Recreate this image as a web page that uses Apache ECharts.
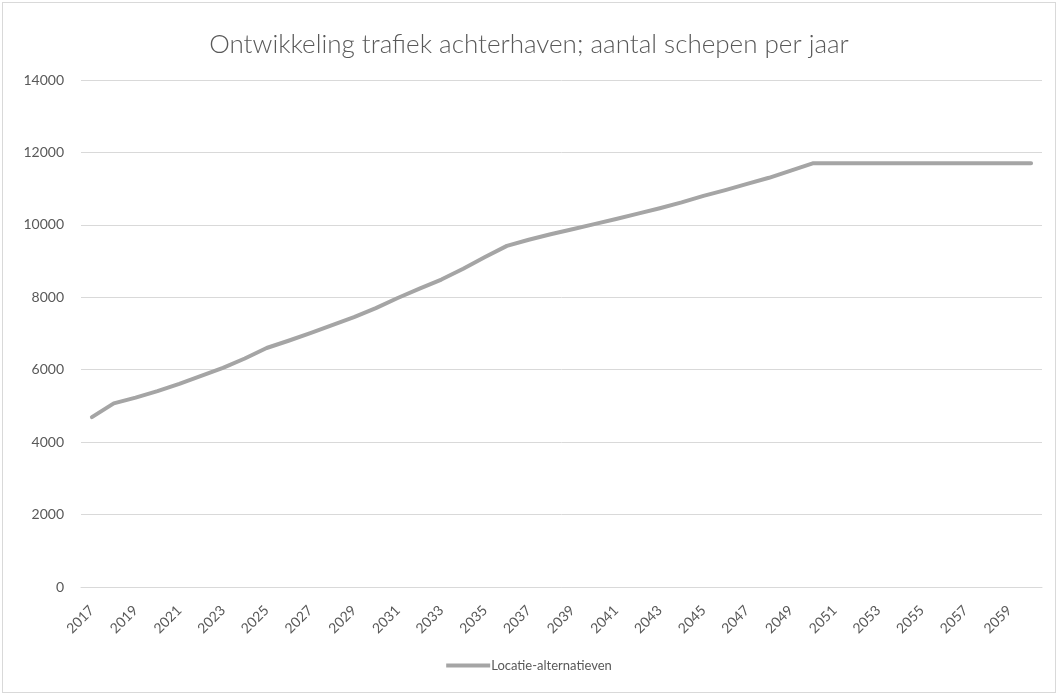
<!DOCTYPE html>
<html>
<head>
<meta charset="utf-8">
<script src="https://cdn.jsdelivr.net/npm/echarts@6/dist/echarts.min.js"></script>
<style>
  html, body { margin: 0; padding: 0; background: #fff; }
  #wrap { position: absolute; left: 2px; top: 2px; width: 1052px; height: 689px; border: 1px solid #d9d9d9; }
  #chart { position: absolute; left: -3px; top: -3px; width: 1058px; height: 695px; }
</style>
</head>
<body>
<div id="wrap"><div id="chart"></div></div>
<script>
const years = [];
for (let y = 2017; y <= 2060; y++) years.push(String(y));

const seriesName = "Locatie-alternatieven";
const values = [
  4690, 5070, 5230, 5410, 5610, 5830, 6050, 6310, 6600, 6800,
  7010, 7230, 7450, 7700, 7980, 8240, 8490, 8790, 9110, 9420,
  9590, 9740, 9880, 10020, 10160, 10310, 10460, 10620, 10800, 10960,
  11130, 11300, 11500, 11700, 11700, 11700, 11700, 11700, 11700, 11700,
  11700, 11700, 11700, 11700
];

const yTicks = { min: 0, max: 14000, interval: 2000 };
const titleText = "Ontwikkeling trafiek achterhaven; aantal schepen per jaar";

const chart = echarts.init(document.getElementById('chart'));
const font = "Lato, 'Open Sans', sans-serif";
chart.setOption({
  animation: false,
  backgroundColor: 'transparent',
  title: {
    text: titleText,
    left: 'center',
    top: 27,
    textStyle: { fontFamily: font, fontWeight: 300, fontSize: 26, color: '#595959' }
  },
  grid: { left: 81, right: 16, top: 80, bottom: 108, containLabel: false },
  legend: {
    bottom: 18,
    left: 'center',
    icon: 'rect',
    itemWidth: 44,
    itemHeight: 4,
    itemGap: 10,
    textStyle: { fontFamily: font, fontSize: 13, color: '#595959', padding: [0, 0, 0, -4] },
    data: [seriesName]
  },
  xAxis: {
    type: 'category',
    data: years,
    boundaryGap: true,
    axisLine: { show: true, lineStyle: { color: '#d9d9d9', width: 1 } },
    axisTick: { show: false },
    axisLabel: {
      interval: 1,
      rotate: 45,
      margin: 21,
      fontFamily: font,
      fontSize: 14,
      color: '#595959'
    }
  },
  yAxis: {
    type: 'value',
    min: yTicks.min,
    max: yTicks.max,
    interval: yTicks.interval,
    axisLine: { show: false },
    axisTick: { show: false },
    splitLine: { lineStyle: { color: '#d9d9d9', width: 1 } },
    axisLabel: { margin: 17, fontFamily: font, fontSize: 14, color: '#595959', formatter: v => String(v) }
  },
  series: [{
    name: seriesName,
    type: 'line',
    data: values,
    showSymbol: false,
    symbol: 'none',
    lineStyle: { color: '#a5a5a5', width: 4, cap: 'round', join: 'round' },
    itemStyle: { color: '#a5a5a5' }
  }]
});
</script>
</body>
</html>
